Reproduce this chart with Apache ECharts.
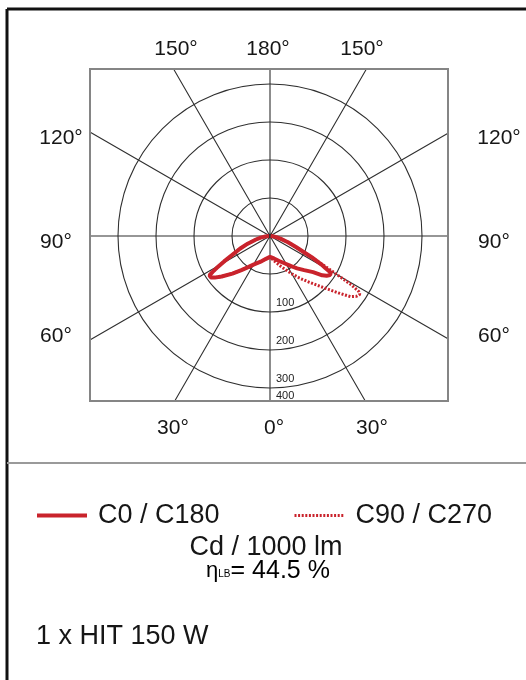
<!DOCTYPE html>
<html><head><meta charset="utf-8">
<script src="https://cdn.jsdelivr.net/npm/echarts@6/dist/echarts.min.js"></script>
<style>html,body{margin:0;padding:0;background:#fff}#c{width:526px;height:680px}</style>
</head><body><div id="c"></div>
<script>
// gamma angles (degrees from nadir) shared by all half-planes
const gammaAngles = [0,10,20,30,35,40,45,50,53,55,57,58,59,60,61,63,67,71,76,80,85,90];
// luminous intensity, cd / 1000 lm
const c0Values   = [55,60,70,85,97,111,127,148,172,182,189,191,186,168,155,123,74,50,28,17,7,2];
const c180Values = [55,61,72,87,100,117,140,166,182,190,190,178,164,150,138,115,86,62,38,25,12,3];
const c90Values  = [55,67,86,115,135,158,188,232,265,277,282,275,250,205,172,123,74,50,28,17,7,2];
const c270Values = [55,61,72,87,100,117,140,166,182,190,190,178,164,150,138,115,86,62,38,25,12,3];
const radiusTicks = [100,200,300,400];
const angleLabels = ['150°','180°','150°','120°','90°','60°','30°','0°','30°'];
const seriesNames = ['C0 / C180','C90 / C270'];

// left half uses angle = gamma, right half angle = 360 - gamma (clockwise from nadir)
function plane(leftVals, rightVals){
  const d = [];
  for (let i = gammaAngles.length - 1; i >= 0; i--) d.push([leftVals[i], gammaAngles[i]]);
  for (let i = 0; i < gammaAngles.length; i++) d.push([rightVals[i], 360 - gammaAngles[i]]);
  return d;
}

const chart = echarts.init(document.getElementById('c'), null, {renderer:'canvas'});
const FF = '"Liberation Sans", Arial, sans-serif';
const red = '#c9232c';
const ink = '#161616';
const cx = 270, cy = 236;
const box = {x:90, y:69, w:358, h:332};
const mask = '#ffffff';
const grid = '#2f2f2f';

function deg(t, x, y){
  return {type:'text', z:120, style:{text:t, x:x, y:y, textAlign:'center', textVerticalAlign:'middle', font:'21px ' + FF, fill:ink}};
}

chart.setOption({
  animation:false,
  backgroundColor:'#fff',
  polar:{center:[cx, cy], radius:209},
  angleAxis:{type:'value', min:0, max:360, interval:30, startAngle:270, clockwise:true,
    axisLine:{show:false}, axisTick:{show:false}, axisLabel:{show:false},
    splitLine:{show:true, lineStyle:{color:grid, width:1.1}}},
  radiusAxis:{type:'value', min:0, max:550, interval:100,
    axisLine:{show:false}, axisTick:{show:false},
    axisLabel:{show:true, margin:6, fontSize:11, color:'#222', fontFamily:'"Liberation Sans Narrow", "Liberation Sans", Arial',
      verticalAlign:'top',
      formatter:function(v){ if (v === 400) return '{b|400}'; return radiusTicks.indexOf(v) >= 0 ? '{a|' + v + '}' : ''; },
      rich:{a:{padding:[23,0,0,0], fontSize:11}, b:{padding:[2,0,0,0], fontSize:11}}},
    splitLine:{show:true, lineStyle:{width:1.1, color:[grid,grid,grid,grid,grid,'rgba(0,0,0,0)','rgba(0,0,0,0)']}}},
  legend:[
    {left:30, top:497, data:[seriesNames[0]], itemWidth:50, itemHeight:16, itemGap:0,
      itemStyle:{opacity:0}, lineStyle:{width:4},
      textStyle:{fontSize:27, color:ink, fontFamily:FF, padding:[0,0,0,6]}},
    {left:288, top:497, data:[seriesNames[1]], itemWidth:50, itemHeight:16, itemGap:0,
      itemStyle:{opacity:0}, lineStyle:{width:3},
      textStyle:{fontSize:27, color:ink, fontFamily:FF, padding:[0,0,0,6]}}
  ],
  series:[
    {name:seriesNames[1], type:'line', coordinateSystem:'polar', symbol:'none', showSymbol:false, z:3,
      lineStyle:{color:red, width:3, type:[2,1.6]}, itemStyle:{color:red},
      data:plane(c270Values, c90Values)},
    {name:seriesNames[0], type:'line', coordinateSystem:'polar', symbol:'none', showSymbol:false, z:4,
      lineStyle:{color:red, width:4}, itemStyle:{color:red},
      data:plane(c180Values, c0Values)}
  ],
  graphic:[
    // masks outside the plot frame
    {type:'rect', z:100, silent:true, shape:{x:0, y:0, width:526, height:box.y}, style:{fill:mask}},
    {type:'rect', z:100, silent:true, shape:{x:0, y:box.y + box.h, width:526, height:60}, style:{fill:mask}},
    {type:'rect', z:100, silent:true, shape:{x:0, y:0, width:box.x, height:470}, style:{fill:mask}},
    {type:'rect', z:100, silent:true, shape:{x:box.x + box.w, y:0, width:90, height:470}, style:{fill:mask}},
    // plot frame
    {type:'rect', z:110, silent:true, shape:{x:box.x, y:box.y, width:box.w, height:box.h}, style:{fill:null, stroke:'#858585', lineWidth:2}},
    // outer frame and divider
    {type:'line', z:110, silent:true, shape:{x1:7, y1:9, x2:526, y2:9}, style:{stroke:'#111', lineWidth:3}},
    {type:'line', z:110, silent:true, shape:{x1:7, y1:9, x2:7, y2:680}, style:{stroke:'#111', lineWidth:3}},
    {type:'line', z:110, silent:true, shape:{x1:7, y1:463, x2:526, y2:463}, style:{stroke:'#9a9a9a', lineWidth:2}},
    // angle labels
    deg(angleLabels[0], 176, 49), deg(angleLabels[1], 268, 49), deg(angleLabels[2], 362, 49),
    deg(angleLabels[3], 61, 138), deg(angleLabels[4], 56, 242), deg(angleLabels[5], 56, 336),
    deg(angleLabels[3], 499, 138), deg(angleLabels[4], 494, 242), deg(angleLabels[5], 494, 336),
    deg(angleLabels[6], 173, 428), deg(angleLabels[7], 274, 428), deg(angleLabels[8], 372, 428),
    // lower texts
    {type:'text', z:120, style:{text:'Cd / 1000 lm', x:266, y:548, textAlign:'center', textVerticalAlign:'middle', font:'27px ' + FF, fill:ink}},
    {type:'text', z:120, style:{x:268, y:571, textAlign:'center', textVerticalAlign:'middle',
      text:'{e|η}{s|LB}{n|= 44.5 %}',
      rich:{e:{fontSize:22, fontFamily:FF, color:ink},
            s:{fontSize:10, fontFamily:FF, color:ink, padding:[6,0,0,0]},
            n:{fontSize:25, fontFamily:FF, color:ink}}}},
    {type:'text', z:120, style:{text:'1 x HIT 150 W', x:36, y:637, textAlign:'left', textVerticalAlign:'middle', font:'27px ' + FF, fill:ink}}
  ]
});
</script></body></html>
